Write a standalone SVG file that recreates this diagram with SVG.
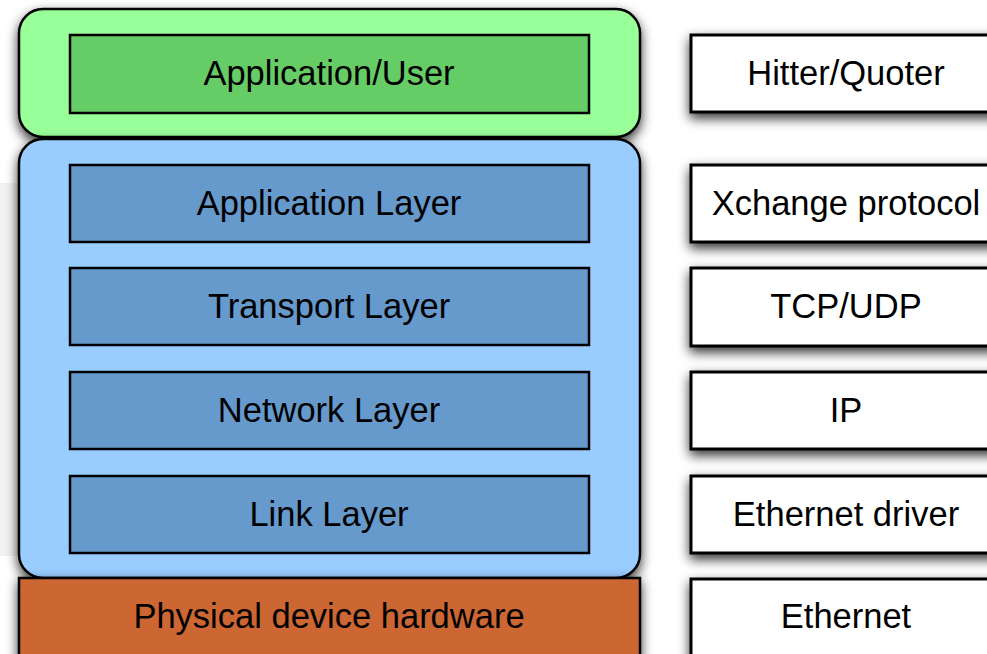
<svg xmlns="http://www.w3.org/2000/svg" width="987" height="654" viewBox="0 0 987 654">
  <defs>
    <filter id="shadow" x="-10%" y="-20%" width="120%" height="150%">
      <feDropShadow dx="0" dy="5" stdDeviation="6" flood-color="#000" flood-opacity="0.8"/>
    </filter>
  </defs>
  <style>
    .outer { stroke: #000; stroke-width: 2.5; filter: url(#shadow); }
    .inner { stroke: #000; stroke-width: 2.5; }
    .side { fill: #fff; stroke: #000; stroke-width: 3; filter: url(#shadow); }
    text { font-family: "Liberation Sans", Arial, sans-serif; font-size: 34.5px; fill: #000; text-anchor: middle; }
  </style>
  <rect x="0" y="0" width="987" height="654" fill="#fff"/>
  <rect x="0" y="183" width="18" height="373" fill="#f1f1f1"/>

  <!-- user tier -->
  <g id="user-tier">
    <rect class="outer" x="19" y="9" width="621" height="128" rx="24" fill="#99ff99"/>
    <rect class="inner" x="70" y="35" width="519" height="78" fill="#66cc66"/>
    <text x="329" y="85">Application/User</text>
  </g>

  <!-- protocol stack -->
  <g id="stack">
    <rect class="outer" x="19" y="139" width="621" height="439" rx="24" fill="#99ccff"/>
  </g>
  <g id="application-layer">
    <rect class="inner" x="70" y="165" width="519" height="77" fill="#6699cc"/>
    <text x="329" y="215">Application Layer</text>
  </g>
  <g id="transport-layer">
    <rect class="inner" x="70" y="268" width="519" height="77" fill="#6699cc"/>
    <text x="329" y="318">Transport Layer</text>
  </g>
  <g id="network-layer">
    <rect class="inner" x="70" y="372" width="519" height="77" fill="#6699cc"/>
    <text x="329" y="422">Network Layer</text>
  </g>
  <g id="link-layer">
    <rect class="inner" x="70" y="476" width="519" height="77" fill="#6699cc"/>
    <text x="329" y="526">Link Layer</text>
  </g>

  <!-- hardware -->
  <g id="hardware">
    <rect class="outer" x="19" y="578" width="621" height="100" fill="#cc6633"/>
    <text x="329" y="628">Physical device hardware</text>
  </g>

  <!-- concrete implementations -->
  <g id="hitter-quoter">
    <rect class="side" x="691" y="35" width="310" height="77"/>
    <text x="846" y="85">Hitter/Quoter</text>
  </g>
  <g id="xchange-protocol">
    <rect class="side" x="691" y="165" width="310" height="77"/>
    <text x="846" y="215">Xchange protocol</text>
  </g>
  <g id="tcp-udp">
    <rect class="side" x="691" y="268" width="310" height="78"/>
    <text x="846" y="318">TCP/UDP</text>
  </g>
  <g id="ip">
    <rect class="side" x="691" y="372" width="310" height="77"/>
    <text x="846" y="422">IP</text>
  </g>
  <g id="ethernet-driver">
    <rect class="side" x="691" y="476" width="310" height="77"/>
    <text x="846" y="526">Ethernet driver</text>
  </g>
  <g id="ethernet">
    <rect class="side" x="691" y="579" width="310" height="100"/>
    <text x="846" y="628">Ethernet</text>
  </g>

  <g id="connectors"/>
</svg>
